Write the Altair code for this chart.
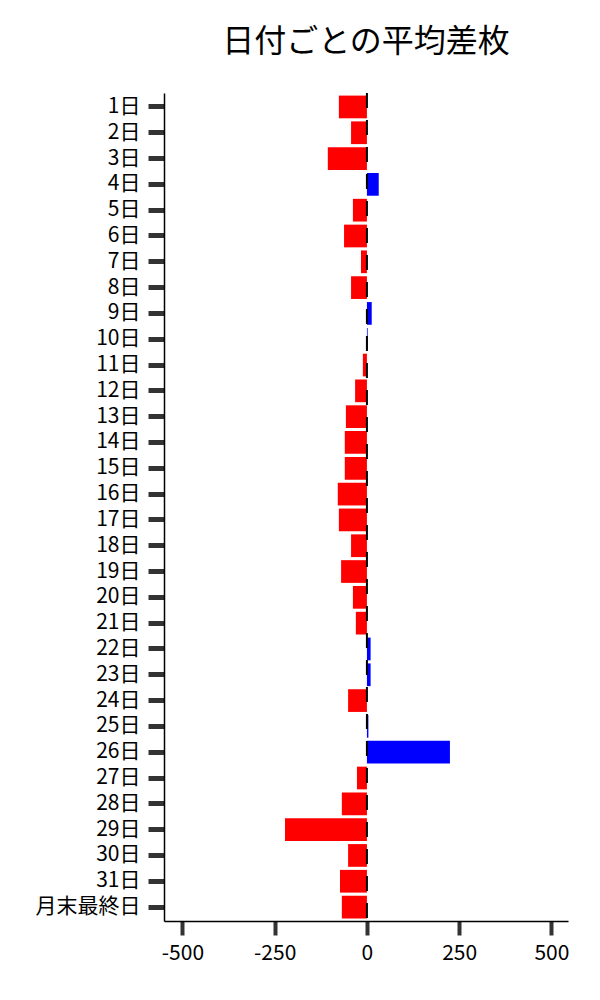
import altair as alt
import pandas as pd

days = [f"{i}日" for i in range(1, 32)] + ["月末最終日"]
values = [-76, -43, -106, 32, -38, -62, -16, -43, 13, 2,
          -11, -32, -57, -60, -60, -79, -76, -43, -70, -38,
          -30, 10, 10, -51, 4, 225, -27, -68, -222, -51,
          -73, -68]
tick_values = [-500, -250, 0, 250, 500]

df = pd.DataFrame({"day": days, "value": values})
df["sign"] = ["pos" if v >= 0 else "neg" for v in values]

FONT = "Noto Sans CJK JP"

y_enc = alt.Y("day:N", sort=days, title=None,
              scale=alt.Scale(paddingInner=0.12, paddingOuter=0.1),
              axis=alt.Axis(labelFont=FONT, labelFontSize=21, labelColor="black",
                            tickSize=16, tickWidth=5, tickColor="#333333",
                            domainColor="black", domainWidth=1.5,
                            labelPadding=8, grid=False))
x_enc = alt.X("value:Q", title=None,
              scale=alt.Scale(domain=[-550, 545], nice=False, zero=False),
              axis=alt.Axis(values=tick_values, labelFont=FONT, labelFontSize=21,
                            labelExpr="toString(datum.value)",
                            labelColor="black", tickSize=14, tickWidth=4,
                            tickColor="#333333", domainColor="black",
                            domainWidth=1.5, labelPadding=7, grid=False,
                            labelFlush=False))

bars = alt.Chart(df).mark_bar().encode(
    y=y_enc,
    x=x_enc,
    x2=alt.datum(0),
    color=alt.Color("sign:N", scale=alt.Scale(domain=["neg", "pos"], range=["#ff0000", "#0000ff"]), legend=None),
)

rule = alt.Chart(pd.DataFrame({"z": [0]})).mark_rule(
    color="black", strokeWidth=2, strokeDash=[15, 12]
).encode(x=alt.X("z:Q", scale=alt.Scale(domain=[-550, 545], nice=False, zero=False)))

chart = alt.layer(bars, rule).properties(
    width=404, height=828,
    title=alt.TitleParams("日付ごとの平均差枚", font=FONT, fontSize=32,
                          fontWeight="normal", color="black", anchor="middle", offset=33),
    autosize=alt.AutoSizeParams(type="none"),
    padding={"left": 156, "top": 85, "right": 24, "bottom": 70},
).configure_view(stroke=None)

chart.save("out.html", embed_options={"renderer": "svg", "actions": False})
